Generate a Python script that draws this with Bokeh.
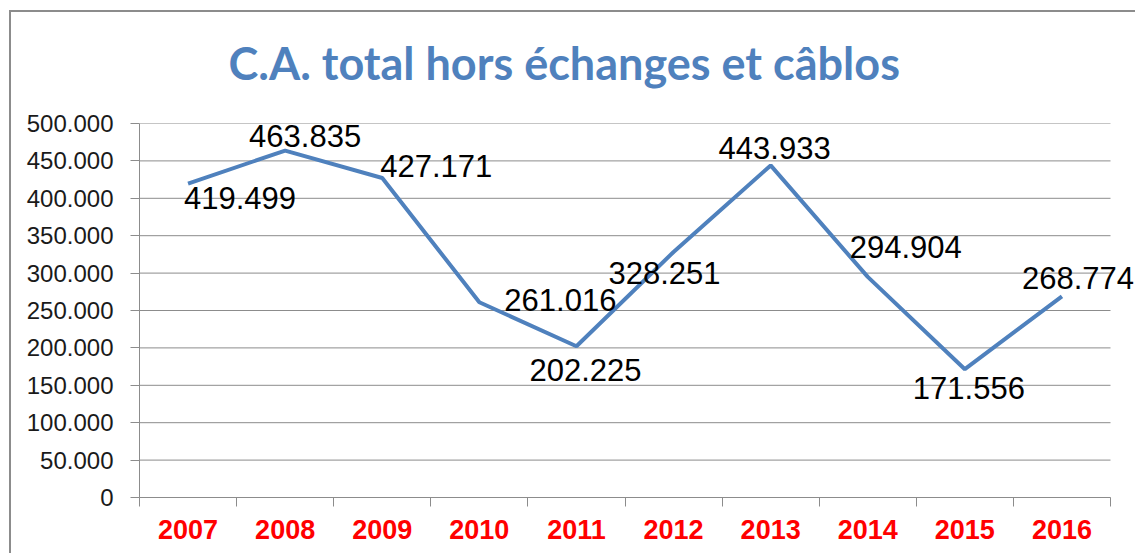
from bokeh.plotting import figure
from bokeh.models import ColumnDataSource, LabelSet, Range1d, FixedTicker, LinearAxis, Title
from bokeh.core.properties import value
from bokeh.embed import file_html
from bokeh.resources import INLINE

years = ["2007", "2008", "2009", "2010", "2011", "2012", "2013", "2014", "2015", "2016"]
values = [419499, 463835, 427171, 261016, 202225, 328251, 443933, 294904, 171556, 268774]
value_labels = ["419.499", "463.835", "427.171", "261.016", "202.225",
                "328.251", "443.933", "294.904", "171.556", "268.774"]
y_ticks = [0, 50000, 100000, 150000, 200000, 250000, 300000, 350000, 400000, 450000, 500000]
y_tick_labels = ["0", "50.000", "100.000", "150.000", "200.000", "250.000",
                 "300.000", "350.000", "400.000", "450.000", "500.000"]
label_dx = [52, 20, 54, 81, 9, -9, 4, 38, 4, 16]
label_dy = [-14, 15, 12, 2, -24, -21, 17, 30, -19, 18]

BLUE = "#4F81BD"
GRID = "#8c8c8c"

W, H = 1135, 553
FRAME_LEFT, PLOT_RIGHT = 139, 1110   # plot area spans these pixels; the frame runs on to the edge

# category slots: each year sits in the middle of its slot
n = len(years)
xpos = [i + 0.5 for i in range(n)]
bounds = list(range(n + 1))
src = ColumnDataSource(dict(x=xpos, val=values, lbl=value_labels, dx=label_dx, dy=label_dy))

x_end = n * (W - FRAME_LEFT) / (PLOT_RIGHT - FRAME_LEFT)
p = figure(width=W, height=H, output_backend="svg", toolbar_location=None,
           x_range=Range1d(0, x_end), y_range=Range1d(0, 500000),
           x_axis_location=None, y_axis_location=None,
           min_border_left=FRAME_LEFT, min_border_right=0, min_border_top=10, min_border_bottom=56)
p.outline_line_color = None
p.border_fill_color = None
p.background_fill_color = None
p.styles = {
    "background": ("linear-gradient(#8c8c8c,#8c8c8c) 9px 10px / 2px 100% no-repeat, "
                   "linear-gradient(#8c8c8c,#8c8c8c) 9px 10px / 100% 2px no-repeat, white"),
}

# title
t = Title(text="C.A. total hors échanges et câblos", align="left", offset=89,
          text_font="Lato", text_font_size="45px", text_font_style="bold",
          text_color=BLUE, standoff=67)
p.add_layout(t, "above")

# y axis
yax = LinearAxis(ticker=FixedTicker(ticks=y_ticks),
                 major_label_overrides={v: s for v, s in zip(y_ticks, y_tick_labels)})
yax.axis_line_color = GRID
yax.major_tick_line_color = GRID
yax.major_tick_in = 0
yax.major_tick_out = 9
yax.minor_tick_line_color = None
yax.major_label_text_font = "Liberation Sans"
yax.major_label_text_font_size = "24px"
yax.major_label_text_color = "#1a1a1a"
yax.major_label_standoff = 17
p.add_layout(yax, "left")

# x axis: labels at slot centres, tick marks at slot boundaries
xax = LinearAxis(ticker=FixedTicker(ticks=xpos, minor_ticks=bounds),
                 major_label_overrides={x: y for x, y in zip(xpos, years)},
                 bounds=(0, n))
xax.axis_line_color = GRID
xax.major_tick_line_color = None
xax.major_tick_in = 0
xax.major_tick_out = 0
xax.minor_tick_line_color = GRID
xax.minor_tick_in = 0
xax.minor_tick_out = 9
xax.major_label_text_font = "Liberation Sans"
xax.major_label_text_font_size = "27px"
xax.major_label_text_font_style = "bold"
xax.major_label_text_color = "#ff0000"
xax.major_label_standoff = 13
p.add_layout(xax, "below")

p.xgrid.grid_line_color = None
p.ygrid.grid_line_color = None

# horizontal gridlines across the plot area only
p.segment(x0=[0] * len(y_ticks), x1=[n] * len(y_ticks), y0=y_ticks, y1=y_ticks,
          line_color=GRID, line_width=1)

p.line("x", "val", source=src, line_color=BLUE, line_width=4)

labels = LabelSet(x="x", y="val", text="lbl", source=src, x_offset="dx", y_offset="dy",
                  text_align="center", text_baseline="middle",
                  text_font=value("Liberation Sans"), text_font_size="31px",
                  text_color="black")
p.add_layout(labels)

open("out.html", "w").write(file_html(p, INLINE))
